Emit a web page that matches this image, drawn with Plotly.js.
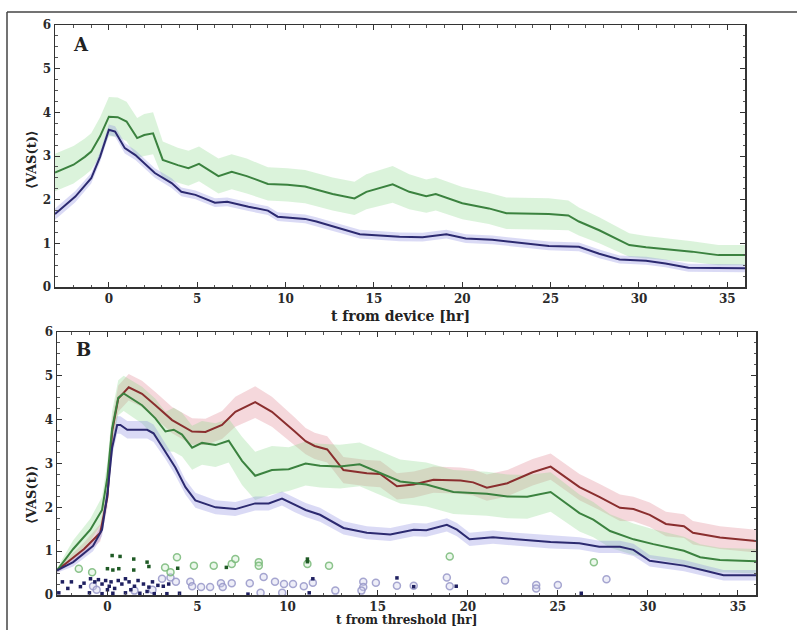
<!DOCTYPE html>
<html>
<head>
<meta charset="utf-8">
<script src="https://cdn.plot.ly/plotly-3.0.1.min.js"></script>
<style>html,body{margin:0;padding:0;background:#fff;}#chart{width:797px;height:630px;}</style>
</head>
<body>
<div id="chart"></div>
<script>
// ---------- Panel A : t from device ----------
const tA_green = [-3.05,-2,-1.36,-1.0,-0.5,0.0,0.5,1.0,1.6,2.0,2.5,3.05,3.9,4.5,5.1,6.2,6.95,7.8,9.0,10.1,11.1,12.66,13.9,14.57,16.06,17.0,17.96,18.5,20.0,21.5,22.5,24.9,26.0,26.6,27.75,29.45,30.4,31.9,33.0,34.5,36];
const vA_green = [2.62,2.8,2.98,3.1,3.45,3.9,3.89,3.79,3.41,3.48,3.52,2.91,2.79,2.72,2.82,2.54,2.64,2.54,2.36,2.34,2.3,2.13,2.03,2.18,2.35,2.18,2.08,2.13,1.92,1.8,1.69,1.67,1.64,1.5,1.3,0.96,0.91,0.85,0.81,0.73,0.73];
const eA_green = [0.43,0.43,0.42,0.42,0.44,0.45,0.45,0.45,0.46,0.48,0.48,0.42,0.4,0.4,0.4,0.4,0.4,0.4,0.38,0.38,0.38,0.38,0.38,0.4,0.42,0.4,0.38,0.38,0.37,0.36,0.36,0.36,0.34,0.32,0.3,0.27,0.26,0.25,0.24,0.23,0.23];

const tA_blue = [-3.05,-1.9,-1.0,-0.5,0,0.35,0.9,1.5,2.6,3.55,4.1,4.9,6.0,6.7,7.9,9.0,9.55,11.1,11.74,14.2,16.45,17.75,19.1,20.2,21.7,24.9,26.6,27.75,28.9,30.4,31.5,32.8,36];
const vA_blue = [1.67,2.07,2.49,2.98,3.6,3.56,3.18,3.02,2.61,2.38,2.18,2.11,1.93,1.95,1.84,1.75,1.61,1.56,1.5,1.21,1.15,1.14,1.21,1.11,1.08,0.94,0.92,0.76,0.63,0.6,0.54,0.44,0.43];
const eA_blue = [0.13,0.13,0.12,0.12,0.12,0.12,0.12,0.11,0.11,0.11,0.1,0.1,0.1,0.1,0.1,0.1,0.1,0.1,0.1,0.1,0.1,0.1,0.1,0.1,0.1,0.1,0.1,0.1,0.09,0.09,0.09,0.09,0.09];

// ---------- Panel B : t from threshold ----------
const tB_red = [-2.8,-1.3,-0.4,0,0.26,0.6,1.18,1.92,2.66,3.59,4.7,5.44,6.36,7.1,8.2,9.13,10.4,11.0,11.5,12.2,13.1,14.4,15.14,16.07,17.0,18.1,19.6,20.3,21.06,22.2,23.6,24.6,26.2,27.3,28.45,29.2,30.1,31.0,32.0,32.5,34.0,36];
const vB_red = [0.56,1.05,1.42,2.24,3.73,4.48,4.74,4.59,4.33,3.99,3.73,3.72,3.88,4.18,4.4,4.18,3.73,3.51,3.4,3.32,2.85,2.78,2.76,2.48,2.52,2.63,2.61,2.57,2.45,2.55,2.8,2.93,2.46,2.24,1.99,1.96,1.83,1.62,1.57,1.42,1.31,1.23];
const eB_red = [0.05,0.15,0.2,0.25,0.28,0.3,0.3,0.3,0.3,0.3,0.3,0.3,0.32,0.34,0.36,0.34,0.32,0.3,0.3,0.3,0.3,0.3,0.3,0.3,0.3,0.3,0.3,0.3,0.3,0.3,0.3,0.3,0.3,0.3,0.3,0.28,0.28,0.28,0.27,0.27,0.26,0.26];

const tB_green = [-2.8,-1.9,-0.95,-0.3,0,0.26,0.6,0.9,1.92,2.66,3.22,3.68,4.14,4.7,5.25,6.0,6.73,7.47,8.2,9.13,10.06,11.0,11.8,12.9,14.0,15.14,16.25,17.7,19.2,21.06,22.2,23.3,24.6,26.2,26.97,27.9,29.2,30.3,32.0,32.9,34.0,36];
const vB_green = [0.56,1.05,1.49,1.94,2.69,3.8,4.5,4.6,4.33,4.03,3.73,3.77,3.66,3.36,3.47,3.42,3.52,3.06,2.72,2.85,2.87,3.0,2.95,2.93,2.98,2.78,2.59,2.52,2.35,2.31,2.25,2.24,2.35,1.87,1.72,1.46,1.27,1.16,1.01,0.86,0.8,0.77];
const eB_green = [0.05,0.2,0.25,0.3,0.35,0.4,0.4,0.4,0.42,0.45,0.45,0.5,0.5,0.5,0.5,0.5,0.5,0.55,0.55,0.55,0.5,0.5,0.5,0.5,0.5,0.5,0.5,0.5,0.5,0.5,0.5,0.5,0.45,0.42,0.4,0.38,0.36,0.34,0.32,0.3,0.28,0.28];

const tB_blue = [-2.8,-1.9,-0.8,-0.3,0,0.26,0.54,0.72,1.1,1.55,2.2,2.56,3.22,3.77,4.33,4.88,6.0,7.1,8.2,8.95,9.69,10.4,11.0,11.8,13.1,14.4,15.7,17.0,17.7,18.84,19.4,20.1,21.4,22.7,24.6,26.2,27.3,28.45,29.2,30.1,31.0,32.0,33.3,34.2,36];
const vB_blue = [0.56,0.75,1.12,1.49,2.31,3.36,3.88,3.88,3.77,3.77,3.77,3.69,3.28,2.91,2.46,2.16,2.0,1.96,2.09,2.09,2.2,2.05,1.94,1.83,1.53,1.42,1.38,1.49,1.48,1.6,1.49,1.27,1.32,1.27,1.21,1.18,1.1,1.1,1.03,0.78,0.73,0.67,0.54,0.45,0.45];
const eB_blue = [0.05,0.1,0.12,0.15,0.18,0.2,0.2,0.2,0.2,0.2,0.2,0.2,0.18,0.18,0.17,0.17,0.16,0.16,0.16,0.16,0.16,0.16,0.16,0.16,0.15,0.15,0.15,0.15,0.15,0.15,0.15,0.15,0.15,0.15,0.15,0.14,0.14,0.14,0.14,0.13,0.13,0.13,0.12,0.12,0.12];

// individual observations (panel B, bottom)
const navyT = [-2.5,-2.7,-2.2,-1.5,-1.3,-0.94,-0.7,-0.5,-0.3,-0.1,0.1,0.2,0.4,0.6,0.8,1.0,1.2,1.5,1.7,2.0,2.3,2.5,2.8,3.1,3.4,-1.0,-0.3,0.3,1.0,1.8,2.6,3.3,4.0,7.8,11.4,11.2,16.07,17.0,19.36,26.3,-2.0,0.0,1.3,2.2];
const navyV = [0.3,0.05,0.15,0.19,0.27,0.37,0.3,0.35,0.25,0.33,0.2,0.3,0.15,0.33,0.25,0.37,0.3,0.2,0.33,0.25,0.18,0.3,0.22,0.2,0.25,0.05,0.03,0.04,0.05,0.04,0.03,0.03,0.04,0.02,0.37,0.05,0.39,0.19,0.2,0.04,0.3,0.12,0.12,0.08];
const dgreenT = [0.26,0.7,0.0,0.3,0.63,1.46,1.46,2.2,2.3,3.9,6.6,11.1,11.1];
const dgreenV = [0.9,0.88,0.6,0.57,0.6,0.82,0.57,0.75,0.65,0.61,0.63,0.82,0.76];
const lgreenT = [-1.59,-0.85,3.2,3.5,3.86,4.8,5.9,6.9,7.1,8.4,8.4,11.1,12.3,19.0,27.0];
const lgreenV = [0.6,0.52,0.63,0.52,0.86,0.67,0.67,0.71,0.82,0.75,0.67,0.71,0.67,0.88,0.75];
const lavT = [-0.8,-0.6,3.03,3.5,3.8,4.6,4.7,5.2,5.7,6.3,6.4,6.9,7.9,8.67,9.3,9.8,10.3,10.9,11.4,12.65,8.5,9.7,14.2,14.2,14.9,14.1,16.07,17.0,18.84,19.0,22.07,23.8,23.8,25.0,27.7,1.5,2.5];
const lavV = [0.2,0.12,0.37,0.4,0.3,0.3,0.2,0.18,0.18,0.27,0.18,0.27,0.27,0.41,0.3,0.25,0.25,0.2,0.28,0.1,0.05,0.05,0.3,0.18,0.28,0.1,0.21,0.21,0.4,0.2,0.33,0.23,0.15,0.23,0.36,0.1,0.12];

const xTicks = [0,5,10,15,20,25,30,35];
const yTicks = [0,1,2,3,4,5,6];

// ---------- build ----------
function band(t, v, e, fill, xa, ya) {
  const up = v.map((d, i) => d + e[i]);
  const lo = v.map((d, i) => d - e[i]);
  return {x: t.concat(t.slice().reverse()), y: up.concat(lo.slice().reverse()),
    xaxis: xa, yaxis: ya, type: 'scatter', mode: 'lines', fill: 'toself',
    fillcolor: fill, line: {width: 0, color: 'rgba(0,0,0,0)'}, hoverinfo: 'skip', showlegend: false};
}
function line(t, v, color, xa, ya) {
  return {x: t, y: v, xaxis: xa, yaxis: ya, type: 'scatter', mode: 'lines',
    line: {color: color, width: 2}, showlegend: false};
}
const C = {
  blue: '#2c2a70', blueBand: 'rgba(140,140,225,0.32)',
  green: '#3b823f', greenBand: 'rgba(135,215,135,0.30)',
  red: '#8a2e2e', redBand: 'rgba(225,135,145,0.32)'
};
const traces = [
  band(tA_green, vA_green, eA_green, C.greenBand, 'x', 'y'),
  band(tA_blue, vA_blue, eA_blue, C.blueBand, 'x', 'y'),
  line(tA_green, vA_green, C.green, 'x', 'y'),
  line(tA_blue, vA_blue, C.blue, 'x', 'y'),
  band(tB_red, vB_red, eB_red, C.redBand, 'x2', 'y2'),
  band(tB_green, vB_green, eB_green, C.greenBand, 'x2', 'y2'),
  band(tB_blue, vB_blue, eB_blue, C.blueBand, 'x2', 'y2'),
  {x: lavT, y: lavV, xaxis: 'x2', yaxis: 'y2', type: 'scatter', mode: 'markers', showlegend: false,
    marker: {size: 7, symbol: 'circle', color: 'rgba(205,205,235,0.35)', line: {color: 'rgba(150,150,200,0.85)', width: 1.5}}},
  {x: lgreenT, y: lgreenV, xaxis: 'x2', yaxis: 'y2', type: 'scatter', mode: 'markers', showlegend: false,
    marker: {size: 7, symbol: 'circle', color: 'rgba(200,235,200,0.35)', line: {color: 'rgba(120,185,120,0.85)', width: 1.5}}},
  {x: navyT, y: navyV, xaxis: 'x2', yaxis: 'y2', type: 'scatter', mode: 'markers', showlegend: false,
    marker: {size: 3.5, symbol: 'square', color: '#1f2060'}},
  {x: dgreenT, y: dgreenV, xaxis: 'x2', yaxis: 'y2', type: 'scatter', mode: 'markers', showlegend: false,
    marker: {size: 3.5, symbol: 'square', color: '#1f5a25'}},
  line(tB_red, vB_red, C.red, 'x2', 'y2'),
  line(tB_green, vB_green, C.green, 'x2', 'y2'),
  line(tB_blue, vB_blue, C.blue, 'x2', 'y2')
];

const W = 797, H = 630;
const serif = 'DejaVu Serif, Liberation Serif, serif';
const tickFont = {family: serif, size: 12, color: '#2a2a2a', weight: 'bold'};
function xax(l, r, range, anchor) {
  return {domain: [l / W, r / W], range: range, anchor: anchor, tickvals: xTicks, ticks: 'inside', ticklen: 5,
    tickcolor: '#333', mirror: 'allticks', showline: true, linecolor: '#333', linewidth: 1.5,
    showgrid: false, zeroline: false, tickfont: tickFont,
    minor: {ticks: 'inside', dtick: 1, ticklen: 2.5, tickcolor: '#555'}};
}
function yax(top, bot, anchor) {
  return {domain: [1 - bot / H, 1 - top / H], range: [0, 6], anchor: anchor, tickvals: yTicks, ticks: 'inside', ticklen: 5,
    tickcolor: '#333', mirror: 'allticks', showline: true, linecolor: '#333', linewidth: 1.5,
    showgrid: false, zeroline: false, tickfont: tickFont,
    minor: {ticks: 'inside', dtick: 0.25, ticklen: 2.5, tickcolor: '#555'}};
}
const txt = (s, x, y, size, extra) => Object.assign({text: s, xref: 'paper', yref: 'paper', x: x / W, y: 1 - y / H,
  showarrow: false, font: {family: serif, size: size, color: '#222', weight: 'bold'},
  xanchor: 'center', yanchor: 'middle'}, extra || {});

const layout = {
  width: W, height: H, margin: {l: 0, r: 0, t: 0, b: 0}, paper_bgcolor: '#fff', plot_bgcolor: '#fff',
  xaxis: xax(55, 745, [-3.05, 36], 'y'),
  yaxis: yax(25, 287, 'x'),
  xaxis2: xax(57, 756, [-2.8, 36], 'y2'),
  yaxis2: yax(332, 595, 'x2'),
  annotations: [
    txt('A', 81, 45, 18),
    txt('B', 83, 349, 18),
    txt('t from device [hr]', 400, 316, 14),
    txt('t from threshold [hr]', 407, 620, 12),
    txt('⟨VAS(t)⟩', 31, 160, 13, {textangle: -90}),
    txt('⟨VAS(t)⟩', 31, 495, 13, {textangle: -90})
  ],
  shapes: [
    {type: 'line', xref: 'paper', yref: 'paper', x0: 7 / W, x1: 1, y0: 1 - 12 / H, y1: 1 - 12 / H, line: {color: '#444', width: 1.5}},
    {type: 'line', xref: 'paper', yref: 'paper', x0: 7 / W, x1: 7 / W, y0: 0, y1: 1 - 12 / H, line: {color: '#444', width: 1.5}}
  ]
};
Plotly.newPlot('chart', traces, layout, {displayModeBar: false, staticPlot: true});
</script>
</body>
</html>
